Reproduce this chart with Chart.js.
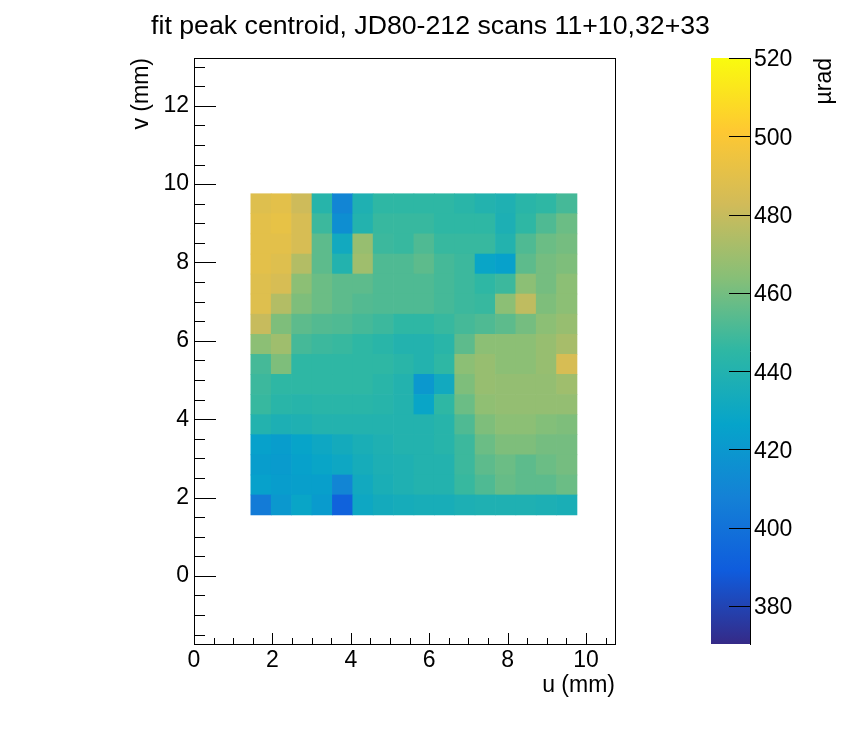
<!DOCTYPE html>
<html>
<head>
<meta charset="utf-8">
<title>fit peak centroid</title>
<script src="https://cdn.jsdelivr.net/npm/chart.js@4.4.1/dist/chart.umd.min.js"></script>
<style>
  body { margin: 0; background: #fff; }
  canvas { display: block; }
</style>
</head>
<body>
<canvas id="canvas" width="862" height="732"></canvas>
<script>
// bin centres of the map (mm)
const uBins = [1.71, 2.23, 2.75, 3.27, 3.79, 4.31, 4.83, 5.35, 5.87, 6.39, 6.91, 7.43, 7.95, 8.47, 8.99, 9.51];
const vBins = [1.81, 2.32, 2.83, 3.35, 3.86, 4.37, 4.89, 5.40, 5.91, 6.42, 6.94, 7.45, 7.96, 8.47, 8.99, 9.50];

// fit peak centroid (urad), one row per v bin, bottom row first
const centroid = [
  [405, 420, 428, 422, 392, 430, 433, 434, 435, 435, 437, 438, 438, 438, 437, 436],
  [425, 423, 424, 424, 410, 432, 436, 438, 440, 440, 447, 452, 457, 455, 455, 458],
  [423, 422, 425, 428, 430, 434, 437, 438, 440, 440, 448, 455, 458, 455, 458, 460],
  [425, 423, 427, 430, 433, 436, 438, 440, 440, 442, 448, 458, 462, 462, 460, 460],
  [440, 437, 438, 440, 440, 440, 440, 440, 440, 442, 452, 462, 465, 465, 463, 462],
  [447, 443, 442, 443, 443, 443, 442, 440, 428, 445, 458, 466, 467, 467, 467, 467],
  [448, 445, 445, 445, 445, 445, 443, 440, 420, 432, 462, 468, 467, 467, 467, 470],
  [450, 462, 445, 445, 445, 445, 445, 443, 440, 445, 465, 468, 465, 465, 468, 485],
  [465, 470, 450, 448, 447, 445, 443, 440, 440, 443, 455, 465, 465, 465, 468, 472],
  [480, 462, 455, 453, 452, 450, 448, 445, 445, 447, 450, 452, 455, 460, 465, 468],
  [488, 475, 462, 458, 455, 453, 452, 452, 452, 450, 448, 447, 465, 478, 462, 465],
  [488, 485, 465, 458, 455, 455, 452, 452, 452, 450, 448, 445, 448, 465, 460, 465],
  [490, 488, 475, 455, 440, 470, 452, 452, 455, 450, 448, 428, 425, 455, 460, 462],
  [490, 490, 485, 455, 432, 468, 448, 447, 452, 447, 447, 447, 440, 452, 458, 460],
  [490, 492, 485, 448, 415, 440, 447, 447, 447, 445, 445, 445, 437, 445, 452, 458],
  [488, 490, 482, 442, 410, 438, 445, 445, 445, 445, 443, 440, 438, 443, 445, 450]
];

const uTicks = [0, 2, 4, 6, 8, 10];
const vTicks = [0, 2, 4, 6, 8, 10, 12];
const zTicks = [380, 400, 420, 440, 460, 480, 500, 520];
const uRange = [0, 10.74];
const vRange = [-1.74, 13.22];
const zRange = [370.3, 520];

// ROOT kBird palette
const birdStops = [0, 0.125, 0.25, 0.375, 0.5, 0.625, 0.75, 0.875, 1];
const birdR = [0.2082, 0.0592, 0.0780, 0.0232, 0.1802, 0.5301, 0.8186, 0.9956, 0.9764];
const birdG = [0.1664, 0.3599, 0.5041, 0.6419, 0.7178, 0.7492, 0.7328, 0.7862, 0.9832];
const birdB = [0.5293, 0.8684, 0.8385, 0.7914, 0.6425, 0.4662, 0.3499, 0.1968, 0.0539];

function birdAt(f) {
  f = Math.min(1, Math.max(0, f));
  let i = 0;
  while (i < birdStops.length - 2 && f > birdStops[i + 1]) i++;
  const t = (f - birdStops[i]) / (birdStops[i + 1] - birdStops[i]);
  const c = a => Math.round(255 * (a[i] + (a[i + 1] - a[i]) * t));
  return 'rgb(' + c(birdR) + ',' + c(birdG) + ',' + c(birdB) + ')';
}
function zColour(z) {
  return birdAt((z - zRange[0]) / (zRange[1] - zRange[0]));
}

function rowEdges(i) {
  const lo = i === 0 ? vBins[0] - (vBins[1] - vBins[0]) / 2 : (vBins[i - 1] + vBins[i]) / 2;
  const hi = i === vBins.length - 1 ? vBins[i] + (vBins[i] - vBins[i - 1]) / 2 : (vBins[i] + vBins[i + 1]) / 2;
  return [lo, hi];
}

const FONT = "'Liberation Sans', Arial, Helvetica, sans-serif";
Chart.defaults.font.family = FONT;
Chart.defaults.color = '#000';

// one floating-bar dataset per v row, every bar is one map cell
const datasets = vBins.map((v, r) => {
  const edges = rowEdges(r);
  return {
    label: 'v=' + v,
    data: uBins.map((u, c) => ({ x: u, y: edges.slice(), z: centroid[r][c] })),
    backgroundColor: ctx => zColour(ctx.raw ? ctx.raw.z : 445),
    borderWidth: 0,
    borderSkipped: false,
    grouped: false,
    barPercentage: 1,
    categoryPercentage: 1
  };
});

// frame, ROOT style inner ticks, title and colour bar
const rootFrame = {
  id: 'rootFrame',
  afterDraw(chart) {
    const ctx = chart.ctx;
    const a = chart.chartArea;
    const xs = chart.scales.x, ys = chart.scales.y, zs = chart.scales.z;
    ctx.save();
    ctx.strokeStyle = '#000';
    ctx.lineWidth = 1;
    ctx.strokeRect(Math.round(a.left) + 0.5, Math.round(a.top) + 0.5,
      Math.round(a.right - a.left), Math.round(a.bottom - a.top));

    ctx.beginPath();
    for (let u = Math.ceil(xs.min / 0.5) * 0.5; u <= xs.max; u += 0.5) {
      const px = Math.round(xs.getPixelForValue(u)) + 0.5;
      const len = uTicks.includes(Math.round(u * 10) / 10) ? 11 : 6;
      ctx.moveTo(px, a.bottom);
      ctx.lineTo(px, a.bottom - len);
    }
    for (let v = Math.ceil(ys.min / 0.5) * 0.5; v <= ys.max; v += 0.5) {
      const py = Math.round(ys.getPixelForValue(v)) + 0.5;
      const len = vTicks.includes(Math.round(v * 10) / 10) ? 22 : 11;
      ctx.moveTo(a.left, py);
      ctx.lineTo(a.left + len, py);
    }
    ctx.stroke();

    // colour bar
    const barL = 711, barR = 750;
    const top = zs.getPixelForValue(zRange[1]);
    const bot = zs.getPixelForValue(zRange[0]);
    const grad = ctx.createLinearGradient(0, bot, 0, top);
    birdStops.forEach(s => grad.addColorStop(s, birdAt(s)));
    ctx.fillStyle = grad;
    ctx.fillRect(barL, top, barR - barL, bot - top);
    ctx.beginPath();
    ctx.moveTo(barR + 0.5, top);
    ctx.lineTo(barR + 0.5, bot + 1);
    zTicks.forEach(t => {
      const py = Math.round(zs.getPixelForValue(t)) + 0.5;
      ctx.moveTo(barR, py);
      ctx.lineTo(barR - 21, py);
    });
    ctx.stroke();
    ctx.fillStyle = '#000';
    ctx.font = '23px ' + FONT;
    ctx.textAlign = 'left';
    ctx.textBaseline = 'middle';
    zTicks.forEach(t => ctx.fillText(String(t), barR + 4, zs.getPixelForValue(t) + 2));

    ctx.save();
    ctx.translate(825, top);
    ctx.rotate(-Math.PI / 2);
    ctx.textAlign = 'right';
    ctx.fillText('\u00b5rad', 0, 0);
    ctx.restore();

    ctx.font = '26.7px ' + FONT;
    ctx.textAlign = 'center';
    ctx.textBaseline = 'alphabetic';
    ctx.fillText('fit peak centroid, JD80-212 scans 11+10,32+33', 430.5, 33.5);
    ctx.restore();
  }
};

const tickFont = { family: FONT, size: 23 };

new Chart(document.getElementById('canvas').getContext('2d'), {
  type: 'bar',
  data: { datasets: datasets },
  options: {
    responsive: false,
    animation: false,
    layout: { padding: { top: 58, right: 247, left: 0, bottom: 0 } },
    plugins: { legend: { display: false }, tooltip: { enabled: false } },
    scales: {
      x: {
        type: 'linear', min: uRange[0], max: uRange[1], offset: false,
        afterBuildTicks: s => { s.ticks = uTicks.map(v => ({ value: v })); },
        afterFit: s => { s.height = 88; },
        grid: { display: false, drawTicks: false },
        border: { display: false },
        ticks: { font: tickFont, color: '#000', padding: 3, maxRotation: 0, autoSkip: false },
        title: { display: true, text: 'u (mm)', align: 'end', font: tickFont, color: '#000', padding: { top: 0, bottom: 33 } }
      },
      y: {
        type: 'linear', min: vRange[0], max: vRange[1],
        afterBuildTicks: s => { s.ticks = vTicks.map(v => ({ value: v })); },
        afterFit: s => { s.width = 194; },
        grid: { display: false, drawTicks: false },
        border: { display: false },
        ticks: { font: tickFont, color: '#000', padding: 5, autoSkip: false },
        title: { display: true, text: 'v (mm)', align: 'end', font: tickFont, color: '#000', padding: { top: 128, bottom: 0 } }
      },
      z: { type: 'linear', display: false, position: 'right', min: zRange[0], max: zRange[1] }
    }
  },
  plugins: [rootFrame]
});
</script>
</body>
</html>
